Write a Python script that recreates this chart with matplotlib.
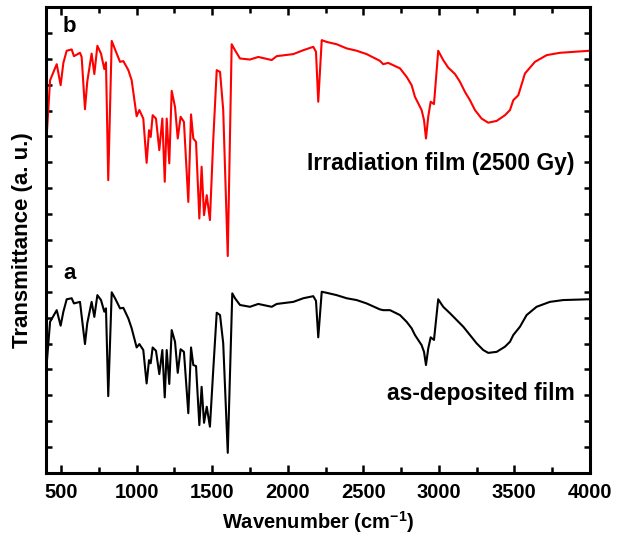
import matplotlib
matplotlib.use('Agg')
import matplotlib.pyplot as plt
from matplotlib.ticker import MultipleLocator, NullFormatter

plt.rcParams['font.family'] = ['Liberation Sans', 'DejaVu Sans']
plt.rcParams['font.weight'] = 'bold'
plt.rcParams['mathtext.fontset'] = 'custom'
plt.rcParams['mathtext.rm'] = 'Liberation Sans:bold'
plt.rcParams['mathtext.bf'] = 'Liberation Sans:bold'
plt.rcParams['mathtext.default'] = 'bf'

# curve b: irradiated film (2500 Gy), wavenumber in cm-1, transmittance in a.u.
wn_b = [405, 427, 471, 497, 515, 537, 570, 585, 625, 636, 658, 673, 702, 720, 740,
        764, 786, 797, 812, 835, 857, 890, 912, 945, 967, 1000, 1018, 1044, 1066,
        1082, 1093, 1106, 1128, 1150, 1170, 1186, 1199, 1216, 1232, 1254, 1272,
        1291, 1313, 1342, 1360, 1375, 1393, 1415, 1430, 1446, 1464, 1485, 1507,
        1530, 1552, 1573, 1603, 1629, 1651, 1684, 1750, 1805, 1894, 1927, 2037,
        2103, 2169, 2187, 2202, 2225, 2258, 2324, 2390, 2456, 2522, 2610, 2632,
        2665, 2743, 2787, 2820, 2842, 2886, 2902, 2915, 2930, 2946, 2968, 2996,
        3029, 3062, 3107, 3140, 3173, 3206, 3239, 3283, 3327, 3383, 3438, 3471,
        3493, 3526, 3570, 3636, 3714, 3802, 4000]
tr_b = [13.05, 15.17, 15.79, 14.98, 15.84, 16.31, 16.36, 16.10, 16.23, 16.07, 14.05,
        15.11, 16.20, 15.41, 16.50, 16.20, 15.60, 15.86, 11.31, 16.69, 16.36, 15.88,
        15.91, 15.56, 15.17, 13.78, 14.02, 13.69, 11.98, 13.24, 12.98, 13.82, 13.69,
        12.47, 13.69, 11.25, 13.69, 11.96, 14.76, 14.14, 12.92, 13.76, 13.56, 10.47,
        13.85, 12.92, 12.79, 9.83, 11.83, 9.96, 10.73, 9.77, 12.86, 15.56, 15.49,
        14.02, 8.38, 16.56, 16.33, 16.01, 15.97, 16.07, 15.95, 16.10, 16.18, 16.33,
        16.46, 16.27, 14.34, 16.72, 16.65, 16.56, 16.40, 16.31, 16.18, 15.92, 15.79,
        15.84, 15.63, 15.30, 14.98, 14.53, 14.02, 13.63, 12.92, 13.76, 14.34, 14.25,
        16.31, 15.95, 15.66, 15.41, 15.11, 14.72, 14.40, 14.02, 13.69, 13.53, 13.60,
        13.82, 14.02, 14.40, 14.59, 15.43, 15.88, 16.14, 16.23, 16.31]

# curve a: as-deposited film
wn_a = [405, 427, 471, 497, 515, 537, 570, 585, 625, 658, 673, 702, 720, 740, 764,
        786, 797, 812, 835, 857, 890, 912, 945, 967, 1000, 1018, 1044, 1066, 1082,
        1093, 1106, 1128, 1150, 1170, 1186, 1199, 1216, 1232, 1254, 1272, 1291,
        1313, 1342, 1360, 1375, 1393, 1415, 1430, 1446, 1464, 1485, 1507, 1530,
        1552, 1573, 1603, 1633, 1651, 1684, 1750, 1805, 1894, 1927, 2037, 2103,
        2169, 2187, 2202, 2225, 2258, 2324, 2390, 2456, 2522, 2610, 2632, 2677,
        2743, 2787, 2820, 2842, 2886, 2902, 2915, 2930, 2946, 2968, 2996, 3029,
        3074, 3118, 3162, 3206, 3250, 3294, 3327, 3383, 3438, 3471, 3493, 3537,
        3581, 3647, 3735, 3823, 3989, 4000]
tr_a = [4.24, 5.84, 6.29, 5.69, 6.23, 6.71, 6.75, 6.55, 6.61, 4.98, 5.78, 6.61, 6.03,
        6.87, 6.68, 6.23, 6.36, 2.97, 6.98, 6.75, 6.36, 6.38, 5.97, 5.59, 4.85, 4.98,
        4.75, 3.46, 4.36, 4.24, 4.85, 4.72, 3.82, 4.75, 2.92, 4.75, 3.44, 5.52, 5.07,
        3.87, 4.78, 4.68, 2.31, 4.85, 4.17, 4.13, 1.85, 3.33, 1.94, 2.56, 1.79, 3.98,
        6.19, 6.10, 5.01, 0.78, 6.94, 6.75, 6.49, 6.42, 6.53, 6.42, 6.53, 6.61, 6.75,
        6.83, 6.65, 5.24, 7.00, 6.96, 6.87, 6.75, 6.68, 6.55, 6.32, 6.29, 6.29, 6.10,
        5.84, 5.59, 5.33, 4.94, 4.68, 4.17, 4.81, 5.24, 5.14, 6.71, 6.42, 6.17, 5.91,
        5.65, 5.33, 5.01, 4.75, 4.64, 4.68, 4.88, 5.07, 5.33, 5.65, 6.10, 6.42, 6.61,
        6.68, 6.71, 6.71]

fig = plt.figure(figsize=(6.19, 5.36), dpi=100)
ax = fig.add_axes([0.0743, 0.1175, 0.8787, 0.8695])

ax.plot(wn_a, tr_a, color='black', linewidth=1.5)
ax.plot(wn_b, tr_b, color='red', linewidth=1.5)

ax.set_xlim(400, 4000)
ax.set_ylim(0, 18)
ax.xaxis.set_major_locator(MultipleLocator(500))
ax.xaxis.set_minor_locator(MultipleLocator(250))
ax.yaxis.set_major_locator(MultipleLocator(1))
ax.yaxis.set_major_formatter(NullFormatter())
ax.tick_params(axis='both', which='both', direction='in', top=True, right=True, width=1.8)
ax.tick_params(axis='x', which='major', length=6, labelsize=14.5, pad=7)
ax.tick_params(axis='x', which='minor', length=4)
ax.tick_params(axis='y', which='major', length=4)
for s in ax.spines.values():
    s.set_linewidth(2.2)

ax.set_xlabel('Wavenumber (cm$^{-1}$)', fontsize=14.5, fontweight='bold', labelpad=5)
ax.set_ylabel('Transmittance (a. u.)', fontsize=16, fontweight='bold', labelpad=6)

ax.text(555, 17.25, 'b', fontsize=16, fontweight='bold', ha='center', va='center')
ax.text(555, 7.7, 'a', fontsize=16, fontweight='bold', ha='center', va='center')
ax.text(3900, 11.95, 'Irradiation film (2500 Gy)', fontsize=16.5, fontweight='bold',
        ha='right', va='center')
ax.text(3900, 3.08, 'as-deposited film', fontsize=16.5, fontweight='bold',
        ha='right', va='center')

fig.savefig('out.png', dpi=100)
